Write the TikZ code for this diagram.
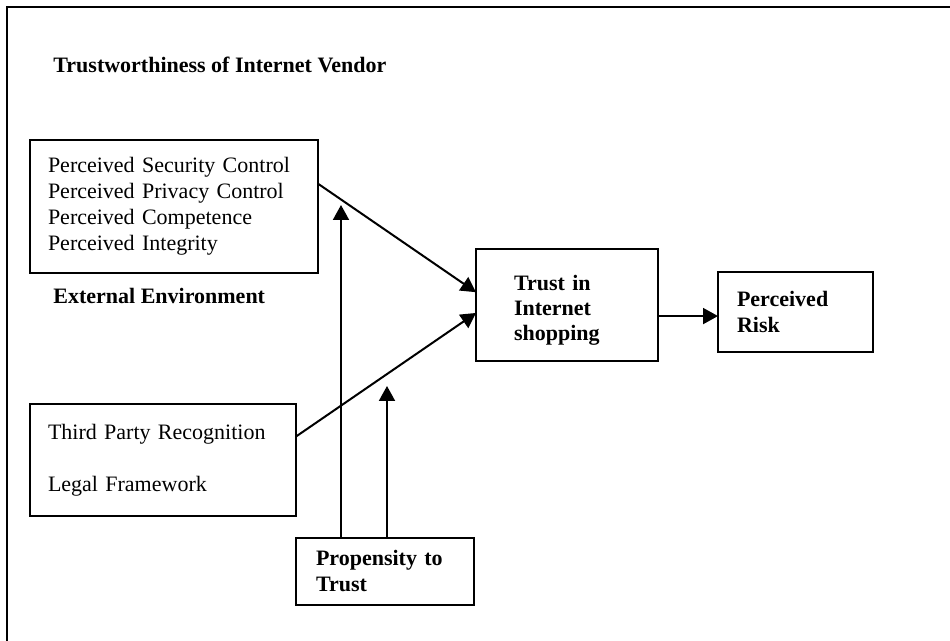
\documentclass[tikz,border=0pt]{standalone}
\usepackage{fontspec}
\setmainfont{Liberation Serif}
\usetikzlibrary{arrows.meta}

\begin{document}
\begin{tikzpicture}[x=0.5pt,y=-0.5pt,font=\fontsize{11}{13}\selectfont,
  box/.style={draw,line width=1pt,align=left,outer sep=0pt,inner ysep=0pt},
  heading/.style={anchor=base west,inner sep=0pt,font=\fontsize{11}{13}\selectfont\bfseries},
  link/.style={-{Triangle[length=7.5pt,width=8pt]},line width=1pt}]
  \useasboundingbox (0,0) rectangle (950,641);
  % Frame
  \draw[line width=0.9pt] (7,641) -- (7,7) -- (950,7);
  % Headings
  \node[heading] (head1) at (53,73) {Trustworthiness of Internet Vendor};
  \node[heading] (head2) at (53,304) {External Environment};
  % Vendor box
  \node[box,minimum width=144pt,minimum height=66.5pt,text width=126pt,inner xsep=9pt] (vendor) at (174,206.5)
    {Perceived Security Control\\Perceived Privacy Control\\Perceived Competence\\Perceived Integrity};
  % Environment box
  \node[box,minimum width=133pt,minimum height=56pt,text width=115pt,inner xsep=9pt] (environ) at (163,460)
    {Third Party Recognition\\[13pt]Legal Framework};
  % Trust box
  \node[box,font=\fontsize{11}{12.5}\selectfont\bfseries,minimum width=90pt,minimum height=56pt,text width=53pt,inner xsep=19pt] (trust) at (567,305)
    {\rule{0pt}{12.5pt}Trust in\\Internet\\shopping};
  % Risk box
  \node[box,font=\fontsize{11}{13}\selectfont\bfseries,minimum width=77.5pt,minimum height=40pt,text width=58.5pt,inner xsep=9.5pt] (risk) at (795.5,312)
    {Perceived\\Risk};
  % Propensity box
  \node[box,font=\fontsize{11}{13}\selectfont\bfseries,minimum width=89pt,minimum height=33.5pt,text width=69pt,inner xsep=10pt] (propensity) at (385,571.5)
    {Propensity to\\Trust};
  % Arrow ends of the moderating links
  \coordinate (mod1) at (341,205);
  \coordinate (mod2) at (387,386);
  % Links
  \draw[link] (vendor.9) -- (trust.172);
  \draw[link] (environ.10) -- (trust.185);
  \draw[link] (mod1 |- propensity.north) -- (mod1);
  \draw[link] (mod2 |- propensity.north) -- (mod2);
  \draw[link] (trust.east |- risk.183) -- (risk.183);
\end{tikzpicture}
\end{document}
